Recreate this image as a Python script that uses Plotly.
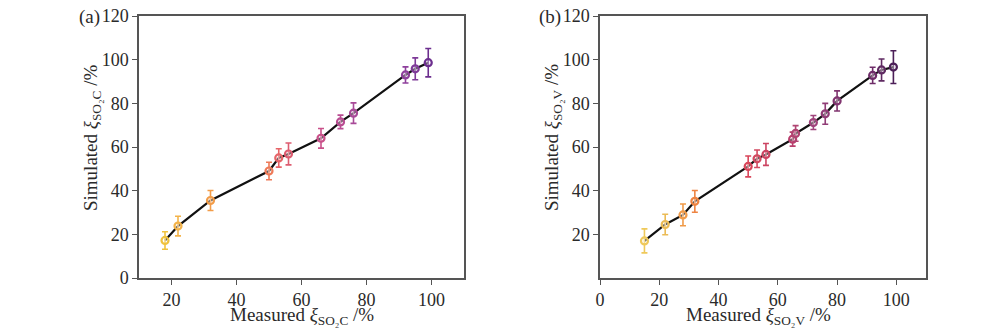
import plotly.graph_objects as go

# Panel (a): SO2 C
xa = [18, 22, 32, 50, 53, 56, 66, 72, 76, 92, 95, 99]
ya = [17.2, 23.8, 35.5, 49.0, 55.0, 56.8, 64.0, 71.5, 75.5, 93.0, 95.8, 98.6]
ea = [4.0, 4.5, 4.6, 4.0, 4.2, 5.0, 4.5, 3.1, 4.7, 3.7, 5.0, 6.5]
ca = ["#F0C23E", "#F3B34A", "#F29C48", "#EE7A58", "#E66468", "#DD5C70",
      "#C9508A", "#B94C92", "#A84A98", "#8E3F9C", "#7E3A98", "#6C2E8E"]

# Panel (b): SO2 V
xb = [15, 22, 28, 32, 50, 53, 56, 65, 66, 72, 76, 80, 92, 95, 99]
yb = [17.0, 24.5, 28.9, 35.1, 51.1, 54.6, 56.6, 63.6, 66.2, 71.2, 75.2, 81.1, 92.8, 95.3, 96.6]
eb = [5.5, 4.7, 5.0, 5.0, 4.8, 4.0, 5.0, 3.2, 3.6, 3.2, 4.8, 4.6, 3.7, 5.0, 7.5]
cb = ["#EFC95A", "#EBBB55", "#F09A48", "#EE8442", "#D9465A", "#D24A60", "#CC4462",
      "#B83E6C", "#B04472", "#A0447C", "#903C76", "#80346F", "#6E2C68", "#5F2A62", "#4C1F58"]

xticks_a = [20, 40, 60, 80, 100]
yticks_a = [0, 20, 40, 60, 80, 100, 120]
xticks_b = [0, 20, 40, 60, 80, 100]
yticks_b = [20, 40, 60, 80, 100, 120]

FONT = "Liberation Serif"
TXT = "#2a2a2a"
AX = "#555555"
W, H = 1000, 333
OFF = 8  # page margin offset in px

fig = go.Figure()


def add_panel(x, y, e, c, xa_name, ya_name):
    fig.add_trace(go.Scatter(x=x, y=y, mode="lines", line=dict(color="#111111", width=2.2),
                             xaxis=xa_name, yaxis=ya_name, showlegend=False, hoverinfo="skip"))
    for xi, yi, ei, ci in zip(x, y, e, c):
        fig.add_trace(go.Scatter(
            x=[xi], y=[yi], mode="markers",
            marker=dict(size=7, color="rgba(255,255,255,0.35)", line=dict(color=ci, width=2.2)),
            error_y=dict(type="data", array=[ei], color=ci, thickness=1.6, width=3),
            xaxis=xa_name, yaxis=ya_name, showlegend=False))


add_panel(xa, ya, ea, ca, "x", "y")
add_panel(xb, yb, eb, cb, "x2", "y2")

axis_common = dict(showgrid=False, zeroline=False, showline=True, linecolor=AX, linewidth=1.5,
                   mirror=True, ticks="outside", ticklen=5, tickcolor=AX,
                   ticklabeloverflow="allow",
                   tickfont=dict(family=FONT, size=18, color=TXT))


def dx(a, b):
    return [(a - OFF) / W, (b - OFF) / W]


def dy(top, bottom):
    return [1 - (bottom - OFF) / H, 1 - (top - OFF) / H]


fig.update_layout(
    width=W, height=H, autosize=False,
    margin=dict(l=0, r=0, t=0, b=0, pad=0, autoexpand=False),
    paper_bgcolor="white", plot_bgcolor="white",
    xaxis=dict(domain=dx(139, 464), range=[10, 110], tickvals=xticks_a, anchor="y", **axis_common),
    yaxis=dict(domain=dy(16, 278), range=[0, 120], tickvals=yticks_a, anchor="x", **axis_common),
    xaxis2=dict(domain=dx(600, 926), range=[0, 110], tickvals=xticks_b, anchor="y2", **axis_common),
    yaxis2=dict(domain=dy(16, 278), range=[0, 120], tickvals=yticks_b, anchor="x2", **axis_common),
)

tfont = dict(family=FONT, size=19, color=TXT)
ann = [
    dict(text="(a)", x=89, y=17),
    dict(text="(b)", x=550, y=17),
    dict(text="Measured <i>ξ</i><sub>SO₂C</sub> /%", x=302, y=316),
    dict(text="Measured <i>ξ</i><sub>SO₂V</sub> /%", x=758, y=316),
    dict(text="Simulated <i>ξ</i><sub>SO₂C</sub> /%", x=92, y=138, textangle=-90),
    dict(text="Simulated <i>ξ</i><sub>SO₂V</sub> /%", x=553, y=138, textangle=-90),
]
for a in ann:
    fig.add_annotation(text=a["text"], x=(a["x"] - OFF) / W, y=1 - (a["y"] - OFF) / H,
                       xref="paper", yref="paper",
                       showarrow=False, font=tfont, textangle=a.get("textangle", 0),
                       xanchor="center", yanchor="middle")

fig.write_html("out.html")
